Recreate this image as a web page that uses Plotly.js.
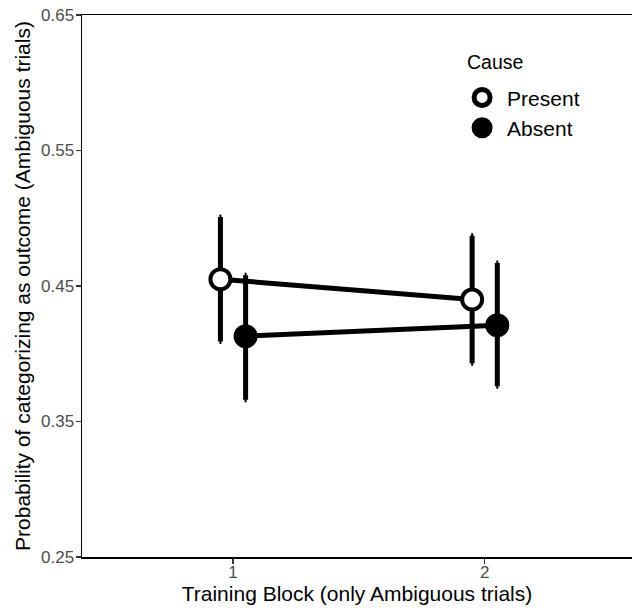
<!DOCTYPE html>
<html>
<head>
<meta charset="utf-8">
<script src="https://cdn.plot.ly/plotly-3.0.1.min.js"></script>
<style>html,body{margin:0;padding:0;background:#fff;}#chart{width:632px;height:611px;}</style>
</head>
<body>
<div id="chart"></div>
<script>
// Data
const blocks = [1, 2];
const tickLabels = ['1', '2'];
const yTicks = [0.25, 0.35, 0.45, 0.55, 0.65];
const yTickLabels = ['0.25', '0.35', '0.45', '0.55', '0.65'];
const causes = ['Present', 'Absent'];
const presentMean = [0.455, 0.440];
const presentHigh = [0.501, 0.487];
const presentLow  = [0.409, 0.393];
const absentMean  = [0.413, 0.421];
const absentHigh  = [0.458, 0.467];
const absentLow   = [0.366, 0.376];

const dodge = 0.05;
const FONT = 'Liberation Sans, Arial, Helvetica, sans-serif';

function makeTrace(name, means, hi, lo, offset, fill) {
  return {
    type: 'scatter',
    mode: 'lines+markers',
    name: name,
    showlegend: false,
    x: blocks.map(b => b + offset),
    y: means,
    error_y: {
      type: 'data', symmetric: false,
      array: hi.map((h, i) => h - means[i]),
      arrayminus: means.map((m, i) => m - lo[i]),
      color: '#000', thickness: 5, width: 1
    },
    line: {color: '#000', width: 5},
    marker: {symbol: 'circle', size: 20, color: fill, line: {color: '#000', width: 4}},
    hoverinfo: 'skip'
  };
}

function legendTrace(name, fill) {
  return {
    type: 'scatter', mode: 'markers', name: name,
    x: [null], y: [null], showlegend: true,
    marker: {symbol: 'circle', size: 16, color: fill, line: {color: '#000', width: 5}},
    hoverinfo: 'skip'
  };
}

const traces = [
  makeTrace(causes[0], presentMean, presentHigh, presentLow, -dodge, '#ffffff'),
  makeTrace(causes[1], absentMean, absentHigh, absentLow, dodge, '#000000'),
  legendTrace(causes[0], '#ffffff'),
  legendTrace(causes[1], '#000000')
];

const pxPerUnit = 251.7;
const plotW = 632 - 82;

const layout = {
  width: 632, height: 611,
  margin: {l: 82, r: 0, t: 15, b: 54},
  paper_bgcolor: '#fff', plot_bgcolor: '#fff',
  font: {family: FONT, color: '#000'},
  showlegend: true,
  legend: {
    x: 0.682, y: 0.885, xanchor: 'left', yanchor: 'top',
    font: {size: 21, color: '#000', family: FONT},
    itemwidth: 40,
    bgcolor: 'rgba(0,0,0,0)', borderwidth: 0
  },
  annotations: [{
    text: 'Cause', xref: 'paper', yref: 'paper',
    x: 0.697, y: 0.913, xanchor: 'left', yanchor: 'middle',
    showarrow: false, font: {size: 19.5, color: '#000', family: FONT}
  }],
  xaxis: {
    range: [0.4, 0.4 + plotW / pxPerUnit],
    tickmode: 'array', tickvals: blocks, ticktext: tickLabels,
    showgrid: false, zeroline: false,
    showline: true, linecolor: '#000', linewidth: 1.5, mirror: true,
    ticks: 'outside', ticklen: 5, tickwidth: 1.2, tickcolor: '#333',
    ticklabelstandoff: -6,
    tickfont: {size: 17, color: '#4d4d4d', family: FONT},
    title: {text: 'Training Block (only Ambiguous trials)', font: {size: 21, color: '#000', family: FONT}, standoff: 2}
  },
  yaxis: {
    range: [0.25, 0.65],
    tickmode: 'array', tickvals: yTicks, ticktext: yTickLabels,
    showgrid: false, zeroline: false,
    showline: true, linecolor: '#000', linewidth: 1.5,
    ticks: 'outside', ticklen: 5, tickwidth: 1.2, tickcolor: '#333',
    ticklabelstandoff: -2,
    tickfont: {size: 17, color: '#4d4d4d', family: FONT},
    title: {text: 'Probability of categorizing as outcome (Ambiguous trials)', font: {size: 21, color: '#000', family: FONT}, standoff: 4}
  }
};

Plotly.newPlot('chart', traces, layout, {displayModeBar: false, staticPlot: true});
</script>
</body>
</html>
